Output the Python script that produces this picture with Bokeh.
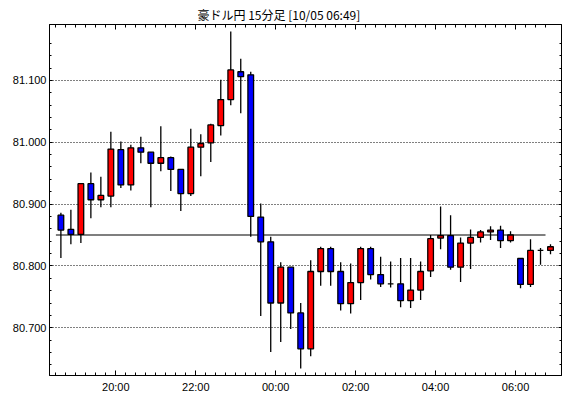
import pandas as pd
from bokeh.plotting import figure
from bokeh.models import Range1d, FixedTicker, LinearAxis, DatetimeAxis, DatetimeTickFormatter, NumeralTickFormatter, CustomJSTickFormatter, ColumnDataSource
from bokeh.embed import file_html
from bokeh.resources import INLINE

title_text = "豪ドル円 15分足 [10/05 06:49]"

# candle start times (15 minute bars)
times = pd.date_range("2020-10-04 18:30", periods=50, freq="15min")

opens = [80.882, 80.859, 80.851, 80.933, 80.907, 80.913, 80.988, 80.931, 80.991, 80.984,
         80.966, 80.975, 80.956, 80.917, 80.992, 80.999, 81.027, 81.069, 81.114, 81.109,
         80.879, 80.839, 80.740, 80.798, 80.724, 80.666, 80.791, 80.828, 80.791, 80.739,
         80.773, 80.828, 80.786, 80.771, 80.771, 80.744, 80.761, 80.792, 80.845, 80.849,
         80.798, 80.837, 80.846, 80.855, 80.858, 80.841, 80.812, 80.770, 80.825, 80.825]
highs = [80.886, 80.891, 80.933, 80.951, 80.944, 81.017, 81.001, 80.996, 81.009, 80.984,
         81.026, 80.977, 80.956, 81.022, 81.013, 81.030, 81.101, 81.179, 81.135, 81.114,
         80.901, 80.847, 80.806, 80.798, 80.740, 80.809, 80.831, 80.831, 80.806, 80.804,
         80.831, 80.831, 80.815, 80.807, 80.813, 80.813, 80.807, 80.850, 80.896, 80.882,
         80.846, 80.859, 80.858, 80.864, 80.865, 80.856, 80.812, 80.843, 80.829, 80.835]
lows = [80.813, 80.835, 80.837, 80.877, 80.895, 80.895, 80.926, 80.922, 80.966, 80.895,
        80.953, 80.921, 80.889, 80.913, 80.945, 80.968, 81.011, 81.060, 81.047, 80.847,
        80.719, 80.661, 80.677, 80.698, 80.634, 80.654, 80.768, 80.768, 80.728, 80.723,
        80.745, 80.778, 80.766, 80.765, 80.733, 80.732, 80.745, 80.782, 80.827, 80.794,
        80.774, 80.795, 80.838, 80.842, 80.829, 80.838, 80.764, 80.766, 80.802, 80.819]
closes = [80.858, 80.851, 80.933, 80.907, 80.914, 80.989, 80.931, 80.991, 80.984, 80.966,
          80.975, 80.956, 80.917, 80.992, 80.998, 81.028, 81.069, 81.117, 81.106, 80.880,
          80.839, 80.740, 80.798, 80.724, 80.666, 80.791, 80.828, 80.791, 80.739, 80.773,
          80.828, 80.786, 80.771, 80.771, 80.744, 80.761, 80.791, 80.844, 80.849, 80.798,
          80.837, 80.846, 80.855, 80.858, 80.841, 80.850, 80.770, 80.825, 80.825, 80.831]

ref_price = 80.850

y_major_ticks = [80.7, 80.8, 80.9, 81.0, 81.1]
y_minor_ticks = [80.64, 80.66, 80.68, 80.70, 80.72, 80.74, 80.76, 80.78, 80.80, 80.82,
                 80.84, 80.86, 80.88, 80.90, 80.92, 80.94, 80.96, 80.98, 81.00, 81.02,
                 81.04, 81.06, 81.08, 81.10, 81.12, 81.14, 81.16]
x_major_ticks = ["2020-10-04 20:00", "2020-10-04 22:00", "2020-10-05 00:00",
                 "2020-10-05 02:00", "2020-10-05 04:00", "2020-10-05 06:00"]

def ms(t):
    return pd.Timestamp(t).value // 10**6

half = pd.Timedelta(minutes=7.5)
centers = [t + half for t in times]
up = [c >= o for o, c in zip(opens, closes)]

def subset(mask):
    return ColumnDataSource(dict(
        x=[centers[i] for i in range(len(times)) if mask[i]],
        top=[max(opens[i], closes[i]) for i in range(len(times)) if mask[i]],
        bottom=[min(opens[i], closes[i]) for i in range(len(times)) if mask[i]],
        high=[highs[i] for i in range(len(times)) if mask[i]],
        low=[lows[i] for i in range(len(times)) if mask[i]],
    ))

src_up = subset(up)
src_dn = subset([not u for u in up])

p = figure(width=570, height=398, x_axis_type="datetime",
           x_range=Range1d(pd.Timestamp("2020-10-04 18:20:24"), pd.Timestamp("2020-10-05 07:09:00")),
           y_range=Range1d(80.6228, 81.1904),
           output_backend="svg", toolbar_location=None,
           min_border_left=49, min_border_right=9, min_border_top=24, min_border_bottom=23)
p.background_fill_color = "white"
p.border_fill_color = "white"
p.outline_line_color = "black"
p.outline_line_width = 1

p.title.text = title_text
p.title.align = "left"
p.title.offset = 148
p.title.standoff = 3
p.title.text_font = "Noto Sans CJK JP"
p.title.text_font_size = "12px"
p.title.text_font_style = "normal"
p.title.text_color = "black"

xt = FixedTicker(ticks=[ms(t) for t in x_major_ticks], minor_ticks=[ms(t) for t in times])
yt = FixedTicker(ticks=y_major_ticks, minor_ticks=y_minor_ticks)

fmt = "%H:%M"
xfmt = DatetimeTickFormatter(microseconds=fmt, milliseconds=fmt, seconds=fmt, minsec=fmt,
                             minutes=fmt, hourmin=fmt, hours=fmt, days=fmt, months=fmt, years=fmt)
xfmt.context = None

xa = p.xaxis[0]
xa.ticker = xt
xa.formatter = xfmt
ya = p.yaxis[0]
ya.ticker = yt
ya.formatter = NumeralTickFormatter(format="0.000")

def style(ax, major_in, minor_in):
    ax.axis_line_color = "black"
    ax.major_tick_line_color = "black"
    ax.minor_tick_line_color = "black"
    ax.major_tick_in = major_in
    ax.major_tick_out = 0
    ax.minor_tick_in = minor_in
    ax.minor_tick_out = 0
    ax.major_label_text_font = "Liberation Sans"
    ax.major_label_text_font_size = "11px"
    ax.major_label_text_color = "black"

style(xa, 5, 3)
xa.major_label_standoff = 5
style(ya, 3, 2)
ya.major_label_standoff = 3

blank = CustomJSTickFormatter(code="return ''")
top_ax = DatetimeAxis(ticker=xt, formatter=blank)
style(top_ax, 5, 3)
top_ax.major_label_text_font_size = "0px"
top_ax.major_label_standoff = 0
p.add_layout(top_ax, "above")

right_ax = LinearAxis(ticker=yt, formatter=blank)
style(right_ax, 3, 2)
right_ax.major_label_text_font_size = "0px"
right_ax.major_label_standoff = 0
p.add_layout(right_ax, "right")

p.xgrid.visible = False
p.ygrid.ticker = yt
p.ygrid.grid_line_color = "black"
p.ygrid.grid_line_dash = "1 2"
p.ygrid.grid_line_width = 1

# reference level
p.line(x=[times[0], times[-1]], y=[ref_price, ref_price], line_color="black", line_width=1.2)

w = 8.5 * 60 * 1000
for src, col in ((src_up, "#FF0000"), (src_dn, "#0000FF")):
    p.segment(x0="x", y0="high", x1="x", y1="low", source=src, line_color="black", line_width=1.3)
    p.vbar(x="x", width=w, top="top", bottom="bottom", source=src,
           fill_color=col, line_color="black", line_width=1.3)

open("out.html", "w").write(file_html(p, INLINE))
